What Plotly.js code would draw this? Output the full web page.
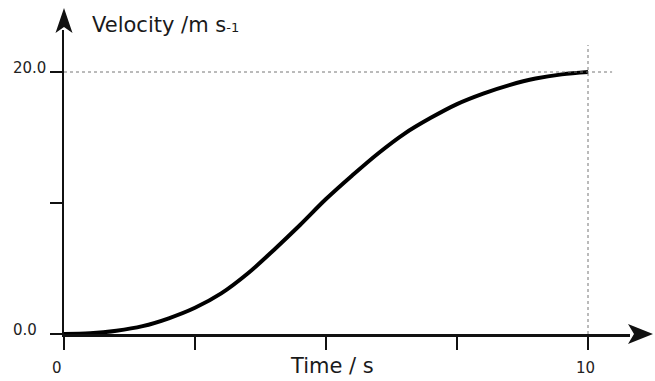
<!DOCTYPE html>
<html>
<head>
<meta charset="utf-8">
<script src="https://cdn.plot.ly/plotly-3.0.1.min.js"></script>
<style>html,body{margin:0;padding:0;background:#fff;}#chart{width:655px;height:381px;}</style>
</head>
<body>
<div id="chart"></div>
<script>
// Data
const time = [0, 0.5, 1, 1.5, 2, 2.5, 3, 3.5, 4, 4.5, 5, 5.5, 6, 6.5, 7, 7.5, 8, 8.5, 9, 9.5, 10];
const velocity = [0, 0.05, 0.25, 0.6, 1.2, 2.0, 3.1, 4.6, 6.4, 8.3, 10.3, 12.1, 13.8, 15.3, 16.5, 17.55, 18.35, 19.0, 19.5, 19.82, 20.0];
const xTickVals = [0, 2.5, 5, 7.5, 10];
const yTickVals = [0, 10, 20];
const xLabelVals = [0, 10];
const xLabelText = ["0", "10"];
const yLabelVals = [0, 20];
const yLabelText = ["0.0", "20.0"];
const xTitle = "Time / s";
const yTitle = "Velocity /m s<span style=\"font-size:13px\">-1</span>";

const font = "DejaVu Sans, Verdana, sans-serif";
const ink = "#111111";
const vMax = Math.max(...velocity);
const tEnd = time[time.length - 1];

const trace = {
  x: time, y: velocity, type: "scatter", mode: "lines",
  line: {color: "#000", width: 4, shape: "spline", smoothing: 1},
  hoverinfo: "skip"
};

const annotations = [];
xLabelVals.forEach((v, i) => annotations.push({
  x: v, y: 0, xref: "x", yref: "y", text: xLabelText[i], showarrow: false,
  xanchor: "center", yanchor: "middle", xshift: i === 0 ? -7 : -3, yshift: -34,
  font: {family: font, size: 15, color: "#222"}
}));
yLabelVals.forEach((v, i) => annotations.push({
  x: 0, y: v, xref: "paper", yref: "y", text: yLabelText[i], showarrow: false,
  xanchor: "left", yanchor: "middle", xshift: -53, yshift: 4,
  font: {family: font, size: 15, color: "#222"}
}));
annotations.push({
  x: 0.474, y: 0, xref: "paper", yref: "paper", text: xTitle, showarrow: false,
  xanchor: "center", yanchor: "middle", yshift: -32,
  font: {family: font, size: 21, color: "#1a1a1a"}
});
annotations.push({
  x: 0, y: 1, xref: "paper", yref: "paper", text: yTitle, showarrow: false,
  xanchor: "left", yanchor: "middle", xshift: 26, yshift: 5,
  font: {family: font, size: 21, color: "#1a1a1a"}
});

const shapes = [
  {type: "line", xref: "x", yref: "y", x0: 0, x1: tEnd * 1.046, y0: vMax, y1: vMax,
   line: {color: "#777", width: 1, dash: "dot"}},
  {type: "line", xref: "x", yref: "y", x0: tEnd, x1: tEnd, y0: 0, y1: vMax * 1.103,
   line: {color: "#777", width: 1, dash: "dot"}},
  {type: "path", xref: "paper", yref: "paper", xsizemode: "pixel", ysizemode: "pixel",
   xanchor: 0, yanchor: 1, path: "M0,22 L8.5,-3 L0,3 L-8.5,-3 Z",
   fillcolor: ink, line: {width: 0}},
  {type: "path", xref: "paper", yref: "paper", xsizemode: "pixel", ysizemode: "pixel",
   xanchor: 1, yanchor: 0, path: "M23,0 L-2,10 L4,0 L-2,-10 Z",
   fillcolor: ink, line: {width: 0}}
];

const layout = {
  width: 655, height: 381,
  margin: {l: 64, r: 25, t: 30, b: 47},
  paper_bgcolor: "#fff", plot_bgcolor: "#fff",
  showlegend: false,
  xaxis: {
    range: [0, 566 / 52.4], showgrid: false, zeroline: false,
    showline: true, linecolor: ink, linewidth: 2.5,
    tickvals: xTickVals, ticks: "outside", ticklen: 13, tickwidth: 2, tickcolor: ink,
    showticklabels: false, fixedrange: true
  },
  yaxis: {
    range: [0, 304 / 13.1], showgrid: false, zeroline: false,
    showline: true, linecolor: ink, linewidth: 2.5,
    tickvals: yTickVals, ticks: "outside", ticklen: 12, tickwidth: 2, tickcolor: ink,
    showticklabels: false, fixedrange: true
  },
  annotations: annotations,
  shapes: shapes
};

Plotly.newPlot("chart", [trace], layout, {displayModeBar: false, staticPlot: true});
</script>
</body>
</html>
